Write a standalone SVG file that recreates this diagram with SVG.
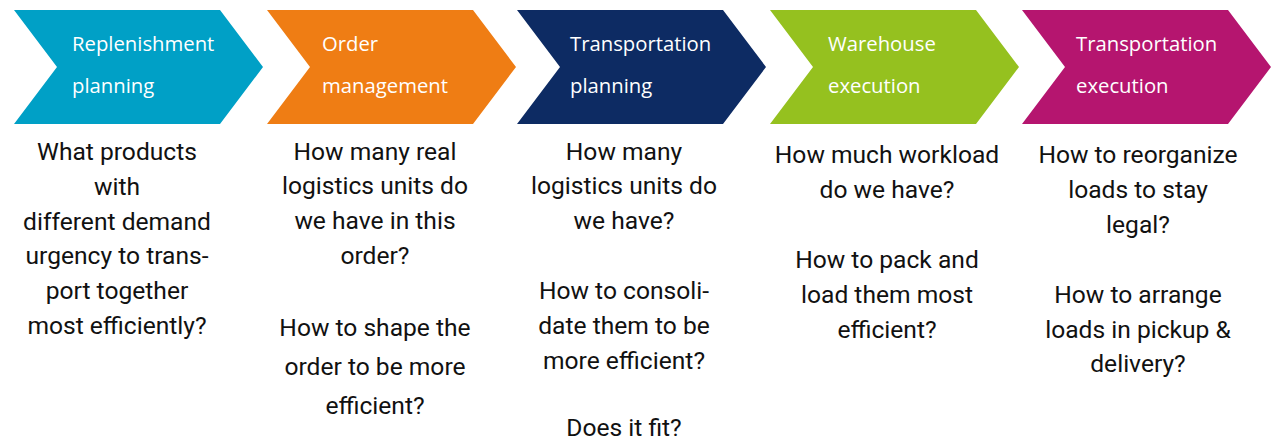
<svg xmlns="http://www.w3.org/2000/svg" width="1283" height="440" viewBox="0 0 1283 440">
<style>
.hd{font-family:"Open Sans","Liberation Sans",sans-serif;font-size:20.3px;fill:#ffffff}
.bd{font-family:Roboto,"Liberation Sans",sans-serif;font-size:24.6px;fill:#111111;text-anchor:middle}
</style>
<defs>
<path id="chev" d="M0,0 H206 L249,57 L206,114 H0 L43,57 Z"/>
</defs>
<rect width="1283" height="440" fill="#ffffff"/>
<g id="node-replenishment">
<use href="#chev" x="14" y="10" fill="#00a0c6"/>
<text class="hd" x="72" y="51">Replenishment</text>
<text class="hd" x="72" y="93">planning</text>
<text class="bd" x="117" y="159.5">What products</text>
<text class="bd" x="117" y="194.5">with</text>
<text class="bd" x="117" y="229.5">different demand</text>
<text class="bd" x="117" y="264">urgency to trans-</text>
<text class="bd" x="117" y="298.5">port together</text>
<text class="bd" x="117" y="333.5">most efficiently?</text>
</g>
<g id="node-order">
<use href="#chev" x="267" y="10" fill="#ef7d14"/>
<text class="hd" x="322" y="51">Order</text>
<text class="hd" x="322" y="93">management</text>
<text class="bd" x="375" y="159.5">How many real</text>
<text class="bd" x="375" y="194">logistics units do</text>
<text class="bd" x="375" y="229">we have in this</text>
<text class="bd" x="375" y="264">order?</text>
<text class="bd" x="375" y="336">How to shape the</text>
<text class="bd" x="375" y="375">order to be more</text>
<text class="bd" x="375" y="414">efficient?</text>
</g>
<g id="node-transport-planning">
<use href="#chev" x="517" y="10" fill="#0d2b63"/>
<text class="hd" x="570" y="51">Transportation</text>
<text class="hd" x="570" y="93">planning</text>
<text class="bd" x="624" y="159.5">How many</text>
<text class="bd" x="624" y="194">logistics units do</text>
<text class="bd" x="624" y="229">we have?</text>
<text class="bd" x="624" y="299">How to consoli-</text>
<text class="bd" x="624" y="334">date them to be</text>
<text class="bd" x="624" y="368.5">more efficient?</text>
<text class="bd" x="624" y="436">Does it fit?</text>
</g>
<g id="node-warehouse">
<use href="#chev" x="770" y="10" fill="#95c11f"/>
<text class="hd" x="828" y="51">Warehouse</text>
<text class="hd" x="828" y="93">execution</text>
<text class="bd" x="887" y="163">How much workload</text>
<text class="bd" x="887" y="198">do we have?</text>
<text class="bd" x="887" y="268">How to pack and</text>
<text class="bd" x="887" y="303">load them most</text>
<text class="bd" x="887" y="337.5">efficient?</text>
</g>
<g id="node-transport-execution">
<use href="#chev" x="1022" y="10" fill="#b5156f"/>
<text class="hd" x="1076" y="51">Transportation</text>
<text class="hd" x="1076" y="93">execution</text>
<text class="bd" x="1138" y="163">How to reorganize</text>
<text class="bd" x="1138" y="198">loads to stay</text>
<text class="bd" x="1138" y="232.5">legal?</text>
<text class="bd" x="1138" y="303">How to arrange</text>
<text class="bd" x="1138" y="337.5">loads in pickup &amp;</text>
<text class="bd" x="1138" y="372">delivery?</text>
</g>
<g id="connectors"/>
</svg>
